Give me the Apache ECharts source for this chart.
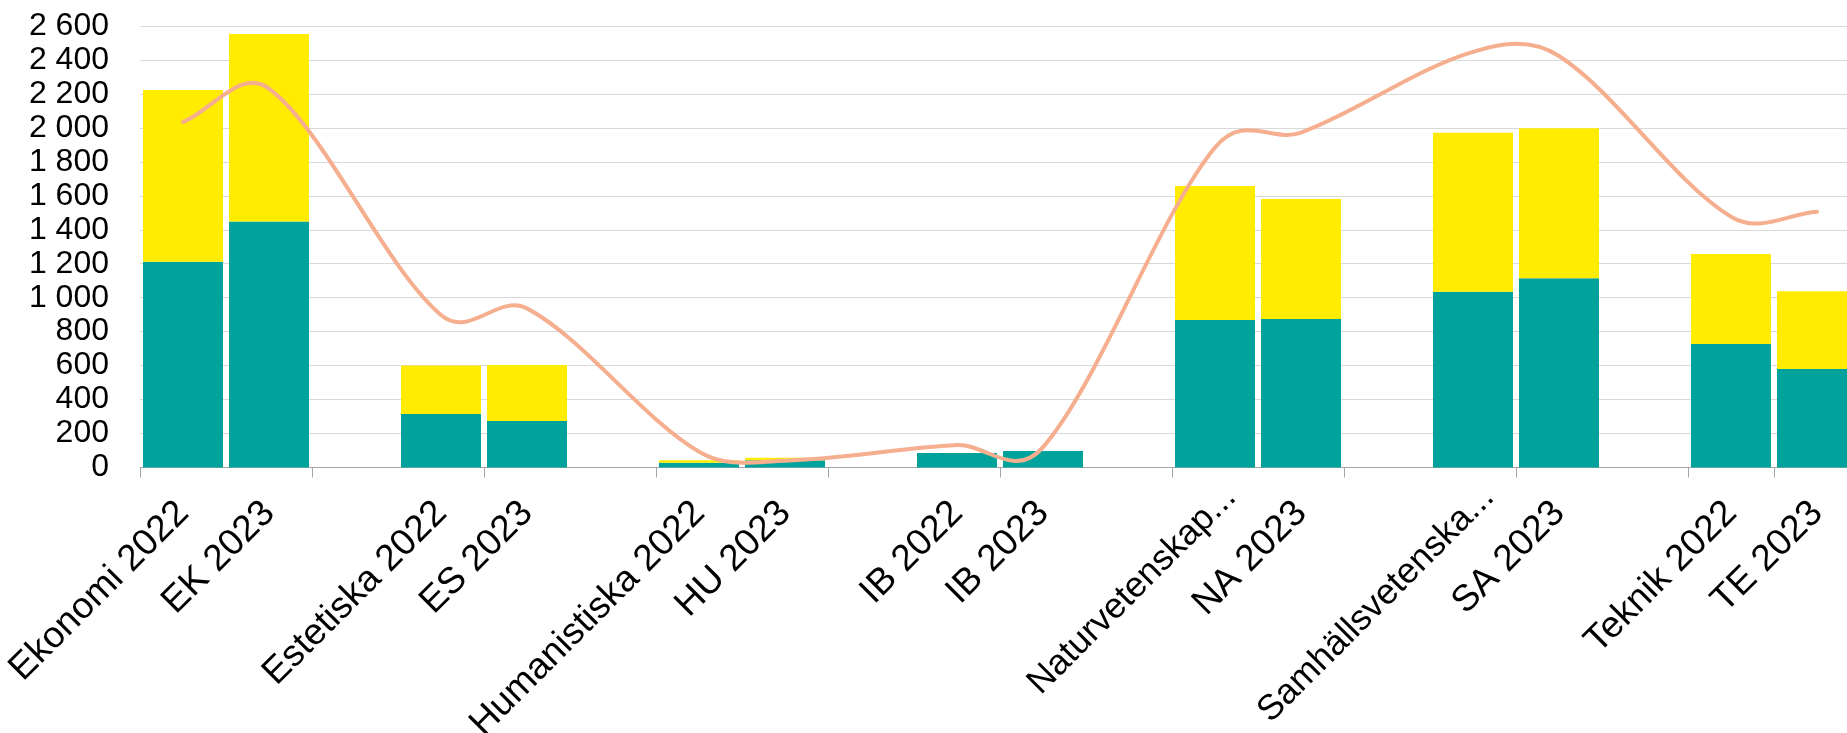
<!DOCTYPE html>
<html>
<head>
<meta charset="utf-8">
<script src="https://cdn.jsdelivr.net/npm/echarts@6/dist/echarts.min.js"></script>
<style>
html,body{margin:0;padding:0;background:#ffffff;}
#chart{width:1847px;height:733px;}
</style>
</head>
<body>
<div id="chart"></div>
<script>
const categories = [
  'Ekonomi 2022', 'EK 2023', '',
  'Estetiska 2022', 'ES 2023', '',
  'Humanistiska 2022', 'HU 2023', '',
  'IB 2022', 'IB 2023', '',
  'Naturvetenskap...', 'NA 2023', '',
  'Samhällsvetenska...', 'SA 2023', '',
  'Teknik 2022', 'TE 2023'
];
const tealValues   = [1212, 1448, null, 315, 274, null, 28, 42, null, 85, 97, null, 868, 875, null, 1035, 1114, null, 727, 580];
const yellowValues = [1011, 1105, null, 285, 330, null, 14, 16, null, 0, 0, null, 790, 706, null, 937, 884, null, 530, 458];
const lineValues   = [2035, 2231, null, 898, 937, null, 93, 40, null, 132, 120, null, 1885, 1972, null, 2448, 2423, null, 1477, 1506];
const yMin = 0, yMax = 2600, yStep = 200;

const FONT = 'Liberation Sans, Arial, sans-serif';
const fmt = v => String(v).replace(/\B(?=(\d{3})+(?!\d))/g, ' ');

// Category entries for the axis; truncated names sit a little further along their baseline.
const axisData = categories.map(name => name.endsWith('...')
  ? {value: name, textStyle: {fontSize: 35.5, padding: [0, -22, 0, 0]}}
  : name);

// Spreadsheet-style smoothed line through the data points (cardinal spline whose
// handles are weighted by the neighbouring gaps), placed with the chart's axes via api.coord.
function renderSmoothLine(params, api) {
  if (params.dataIndex !== 0) return null;
  const pts = [];
  lineValues.forEach((v, i) => { if (v != null) pts.push(api.coord([i, v])); });
  if (pts.length < 2) return null;
  const n = pts.length;
  const outH = [], inH = [];
  for (let i = 0; i < n; i++) {
    const p = pts[i];
    const prev = pts[i - 1] || p;
    const next = pts[i + 1] || p;
    const dPrev = Math.abs(p[0] - prev[0]);
    const dNext = Math.abs(next[0] - p[0]);
    const sum = dPrev + dNext || 1;
    const vx = next[0] - prev[0], vy = next[1] - prev[1];
    const kOut = dNext / sum / 3, kIn = dPrev / sum / 3;
    outH.push([p[0] + vx * kOut, p[1] + vy * kOut]);
    inH.push([p[0] - vx * kIn, p[1] - vy * kIn]);
  }
  let d = 'M' + pts[0][0] + ' ' + pts[0][1];
  for (let i = 0; i < n - 1; i++) {
    const c1 = outH[i], c2 = inH[i + 1], p2 = pts[i + 1];
    d += ' C' + c1[0] + ' ' + c1[1] + ' ' + c2[0] + ' ' + c2[1] + ' ' + p2[0] + ' ' + p2[1];
  }
  return {
    type: 'path',
    shape: {pathData: d},
    style: {stroke: '#F5AF8F', fill: 'none', lineWidth: 4, lineCap: 'round', lineJoin: 'round'},
    z2: 10
  };
}

const chart = echarts.init(document.getElementById('chart'), null, {renderer: 'canvas'});
chart.setOption({
  animation: false,
  backgroundColor: '#ffffff',
  grid: {left: 140, right: -13, top: 26, bottom: 265.5, containLabel: false, outerBoundsMode: 'none'},
  xAxis: {
    type: 'category',
    data: axisData,
    boundaryGap: true,
    axisLine: {show: true, lineStyle: {color: '#A6A6A6', width: 1}},
    axisTick: {show: true, interval: 1, length: 10, lineStyle: {color: '#A6A6A6', width: 1}},
    axisLabel: {
      interval: 0, rotate: 45, margin: 40,
      align: 'right', verticalAlign: 'middle',
      fontFamily: FONT, fontSize: 37, color: '#000000'
    },
    splitLine: {show: false}
  },
  yAxis: {
    type: 'value',
    min: yMin, max: yMax, interval: yStep,
    axisLine: {show: false},
    axisTick: {show: false},
    axisLabel: {margin: 31, fontFamily: FONT, fontSize: 32, color: '#000000', formatter: fmt},
    splitLine: {show: true, lineStyle: {color: '#D9D9D9', width: 1}}
  },
  series: [
    {
      name: 'Serie 1', type: 'bar', stack: 'total', data: tealValues,
      barCategoryGap: '7%',
      itemStyle: {color: '#00A39B'}
    },
    {
      name: 'Serie 2', type: 'bar', stack: 'total', data: yellowValues,
      barCategoryGap: '7%',
      itemStyle: {color: '#FFEC00'}
    },
    {
      name: 'Serie 3', type: 'custom',
      data: lineValues.map((v, i) => [i, v]).filter(d => d[1] != null),
      encode: {x: 0, y: 1},
      renderItem: renderSmoothLine,
      z: 5
    }
  ]
});
</script>
</body>
</html>
